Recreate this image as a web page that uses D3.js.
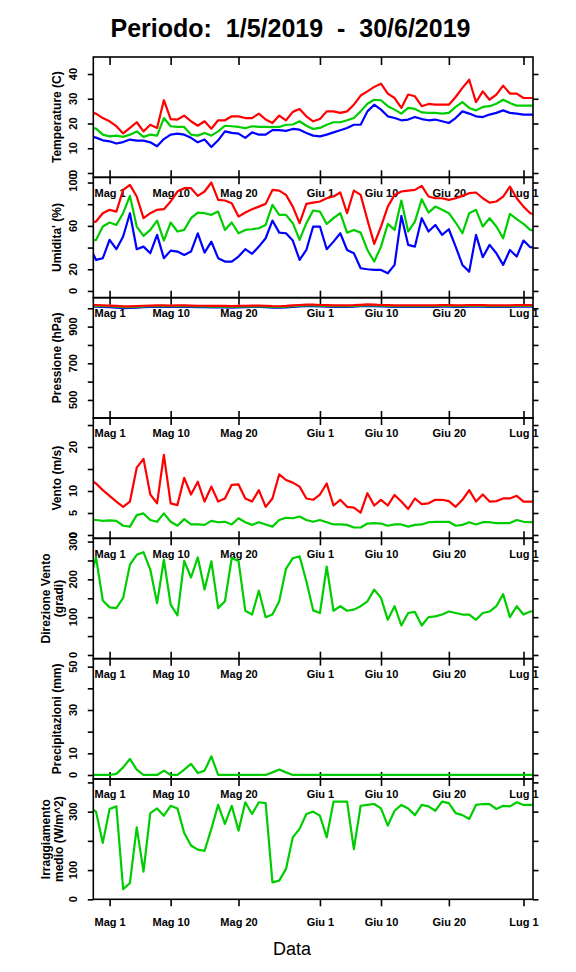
<!DOCTYPE html>
<html>
<head>
<meta charset="utf-8">
<style>
    body { margin: 0; background: #fff; }
    text { font-family: "Liberation Sans", Arial, sans-serif; fill: #000; }
    .frame { fill: none; stroke: #000; stroke-width: 1.6px; }
    .tick line { stroke: #000; stroke-width: 1.6px; }
    .serie { fill: none; stroke-width: 2.2px; stroke-linejoin: round; stroke-linecap: round; }
</style>
</head>
<body>
<svg id="chart" width="576" height="972"></svg>
<script src="https://cdn.jsdelivr.net/npm/d3@7"></script>
<script>
    // daily values, 28 Apr 2019 .. 3 Jul 2019
    var firstDay = new Date(Date.UTC(2019, 3, 28));
    var afterLast = new Date(Date.UTC(2019, 6, 4));
    var periodStart = new Date(Date.UTC(2019, 4, 1));
    var periodEnd = new Date(Date.UTC(2019, 5, 30));

    var tempMax = [24.6,24.0,22.2,20.9,18.9,16.0,18.2,20.5,16.8,19.5,
        18.2,29.4,21.8,21.6,23.2,20.9,19.1,20.9,17.9,21.3,
        21.3,22.9,22.9,22.2,22.2,24.0,21.6,20.2,23.2,21.3,
        24.7,25.9,22.9,20.9,21.8,24.9,24.9,24.3,24.9,27.6,
        31.3,33.0,34.8,36.1,32.1,30.3,26.3,31.7,31.0,27.0,
        27.9,27.6,27.6,27.6,30.7,34.4,37.7,28.6,33.0,29.6,
        31.7,35.3,32.1,32.1,30.3,30.3,30.3];
    var tempMed = [18.5,17.9,15.5,14.8,15.1,14.6,15.5,16.8,14.6,15.5,
        15.1,22.2,18.9,18.6,18.6,15.5,15.1,16.2,15.1,16.8,
        19.1,18.9,18.6,18.1,18.9,18.6,18.6,18.5,18.6,19.5,
        19.6,20.9,19.1,17.8,18.2,19.5,20.5,20.5,21.3,22.2,
        24.9,28.0,29.6,29.4,27.0,25.6,24.0,26.3,25.9,24.5,
        24.3,24.3,24.0,24.3,26.7,28.6,26.3,25.3,26.7,27.0,
        28.0,29.6,28.3,27.2,27.2,27.2,27.2];
    var tempMin = [14.9,14.3,13.2,12.8,11.9,12.5,13.5,13.1,13.1,12.4,
        10.8,13.7,15.5,15.9,15.5,14.2,12.4,13.5,10.5,13.2,
        16.8,16.2,15.9,14.2,16.4,15.5,15.5,17.3,17.3,17.0,
        17.8,17.5,16.2,15.1,14.8,15.5,16.4,17.3,18.2,19.5,
        19.5,24.9,27.6,25.6,22.9,22.2,21.3,21.6,22.6,21.8,
        21.3,21.6,20.9,20.2,22.2,24.9,24.0,22.9,22.6,23.6,
        24.3,25.3,24.3,24.0,23.6,23.6,23.6];

    var humMax = [63,64,71.7,74.8,73.2,93.2,97.8,87.1,67.1,71.7,
        74.8,75.4,82.5,91.7,94.8,94.8,87.7,91.7,100,84,
        83.4,80.9,68.6,72.3,75.4,77.8,80.3,93.2,92.6,88.6,
        77.8,62.5,80.3,81.5,82.5,85.5,87.1,90.8,71.7,92.6,
        88.6,65.5,43.4,59.4,77.8,88.6,91.7,92.6,93.2,96.9,
        87.1,85.5,85.5,84,85.5,87.7,90.2,90.8,85.5,81.5,
        82.5,87.1,96.3,85.5,77.8,71.7,70];
    var humMed = [46,47.1,59.4,63.1,60.9,71.7,87.7,59.4,50.8,56.3,
        64.9,46.5,63.1,54.8,56.3,67.1,72.3,71.7,70.2,73.2,
        56.3,63.1,53.2,56.3,56.9,57.8,60.9,79.4,70.2,70.2,
        62.5,47.1,62.5,74.2,73.2,61.8,67.1,71.7,53.8,56.3,
        53.8,37.8,27.1,40.9,61.8,56.3,83.4,54.8,64,84.6,
        72.3,77.8,74.8,71.7,63.1,53.2,71.7,74.8,59.4,67.1,
        59.4,48.6,71.1,66.2,61.8,56.3,55];
    var humMin = [42,28.6,30.2,47.1,38.5,50.2,71.7,38.5,40.9,34.8,
        51.7,30.2,37.2,36.3,33.2,36.3,53.2,35.4,45.5,30.2,
        27.1,27.1,31.7,38.5,34.2,40.9,48.6,64.9,53.8,53.2,
        46.5,28.6,37.8,59.4,59.4,38.5,45.5,53.2,37.8,34.8,
        20.9,20,19.4,19.4,16.3,24,69.2,42.5,40.9,67.1,
        54.8,60.9,51.7,56.9,40.9,24,17.8,51.7,31.1,42.5,
        34.8,24,37.8,31.7,46.5,40.3,40];

    var presMax = [1017,1017,1016,1015,1013,1010,1010,1012,1014,1015,
        1016,1016,1015,1016,1016,1015,1014,1014,1013,1013,
        1013,1012,1013,1014,1015,1015,1014,1012,1011,1013,
        1016,1018,1020,1020,1018,1017,1016,1016,1016,1017,
        1019,1021,1020,1018,1017,1016,1016,1016,1016,1016,
        1016,1016,1017,1017,1016,1016,1017,1017,1017,1016,
        1016,1016,1016,1017,1017,1017,1017];
    var presMed = [1013,1013,1012,1011,1009,1006,1006,1008,1010,1011,
        1012,1012,1011,1012,1012,1011,1010,1010,1009,1009,
        1009,1008,1009,1010,1011,1011,1010,1008,1007,1009,
        1012,1014,1016,1016,1014,1013,1012,1012,1012,1013,
        1015,1017,1016,1014,1013,1012,1012,1012,1012,1012,
        1012,1012,1013,1013,1012,1012,1013,1013,1013,1012,
        1012,1012,1012,1013,1013,1013,1013];
    var presMin = [1009,1009,1008,1006,1004,1001,1002,1004,1006,1007,
        1008,1008,1007,1008,1008,1007,1006,1006,1005,1005,
        1005,1004,1005,1006,1007,1007,1006,1004,1003,1005,
        1008,1010,1012,1012,1010,1009,1008,1008,1008,1009,
        1011,1013,1012,1010,1009,1008,1008,1008,1008,1008,
        1008,1008,1009,1009,1008,1008,1009,1009,1009,1008,
        1008,1008,1008,1009,1009,1009,1009];

    var windMax = [12.8,11.7,10.2,8.9,7.6,6.4,7.6,15.3,17.3,9.2,
        7.2,18.2,7.2,6.8,13.0,9.2,12.1,7.6,11.0,7.6,
        8.3,11.4,11.5,8.3,7.6,10.2,6.4,8.3,13.8,12.5,
        11.9,11.0,8.3,8.0,9.2,11.7,6.7,8.0,6.4,6.2,
        5.1,9.5,6.7,8.0,6.7,9.1,7.6,5.9,8.3,7.0,
        7.2,8.0,8.0,7.7,6.4,8.0,10.2,7.6,9.2,7.6,
        7.7,8.3,8.3,8.9,7.6,7.6,7.6];
    var windMed = [3.4,3.4,3.2,3.3,3.2,2.1,1.9,4.5,4.9,3.4,
        3.0,4.9,3.0,2.1,3.6,2.4,2.4,2.3,3.2,2.9,
        3.0,2.4,3.8,2.9,2.3,2.9,2.4,1.9,3.4,3.9,
        3.8,4.2,3.4,3.0,3.4,2.9,2.4,2.4,2.3,1.7,
        1.7,2.6,2.7,2.6,2.1,2.4,2.4,1.9,2.3,2.4,
        2.9,3.0,3.0,3.0,2.1,2.3,2.9,2.4,2.9,2.9,
        2.7,2.7,2.7,3.4,3.0,2.9,2.9];
    var windDir = [195,258,144,126,124,151,239,265,272,226,
        137,252,133,105,249,205,258,173,248,124,
        142,256,249,117,107,170,100,107,142,228,
        256,261,195,118,111,234,117,129,117,120,
        129,142,173,151,93,129,78,111,114,78,
        100,102,107,115,111,107,107,93,111,115,
        129,161,100,129,107,115,115];

    var rain = [0,0,0,0,0.5,3.5,7.4,2.5,0,0,
        0,2.0,0,0,2.5,5.1,0.9,2.0,8.6,0,
        0,0,0,0,0,0,0,1.2,2.5,1.2,
        0,0,0,0,0,0,0,0,0,0,
        0,0,0,0,0,0,0,0,0,0,
        0,0,0,0,0,0,0,0,0,0,
        0,0,0,0,0,0,0];
    var radiation = [315,300,193,309,318,35,56,246,95,295,
        311,286,320,311,227,184,170,166,241,323,
        258,320,235,332,292,332,329,58,64,104,
        212,241,292,300,286,212,334,334,334,172,
        320,323,326,311,252,303,323,311,288,323,
        318,303,334,329,295,288,275,323,326,326,
        309,320,318,332,323,323,323];

    // ticks and labels
    var dateTicks = [new Date(Date.UTC(2019,4,1)), new Date(Date.UTC(2019,4,10)), new Date(Date.UTC(2019,4,20)),
        new Date(Date.UTC(2019,5,1)), new Date(Date.UTC(2019,5,10)), new Date(Date.UTC(2019,5,20)),
        new Date(Date.UTC(2019,6,1))];
    var shortMonths = ['Gen','Feb','Mar','Apr','Mag','Giu','Lug','Ago','Set','Ott','Nov','Dic'];

    var tempTicks = [0,10,20,30,40],            tempLabels = [0,10,20,30,40];
    var humTicks = [0,20,40,60,80,100],         humLabels = [0,20,60,100];
    var presTicks = [500,600,700,800,900,1000], presLabels = [500,700,900];
    var windTicks = [0,5,10,15,20,25],          windLabels = [0,5,10,20];
    var dirTicks = [0,50,100,150,200,250,300],  dirLabels = [0,100,200,300];
    var rainTicks = [0,10,20,30,40,50],         rainLabels = [0,10,30,50];
    var radTicks = [0,100,200,300,400],         radLabels = [0,100,300];

    var RED = '#ff0000', GREEN = '#00cd00', BLUE = '#0000ff';

    var panels = [
        {title: ['Temperature (C)'], ylim: [-1.75, 46.87], ticks: tempTicks, labels: tempLabels,
            series: [[tempMin, BLUE], [tempMed, GREEN], [tempMax, RED]]},
        {title: ["Umidita' (%)"], ylim: [-6.2, 104.8], ticks: humTicks, labels: humLabels,
            series: [[humMin, BLUE], [humMed, GREEN], [humMax, RED]]},
        {title: ['Pressione (hPa)'], ylim: [401.5, 1058], ticks: presTicks, labels: presLabels,
            series: [[presMin, BLUE], [presMed, GREEN], [presMax, RED]]},
        {title: ['Vento (m/s)'], ylim: [-0.76, 26.6], ticks: windTicks, labels: windLabels,
            series: [[windMed, GREEN], [windMax, RED]]},
        {title: ['Direzione Vento', '(gradi)'], ylim: [-9.7, 308.6], ticks: dirTicks, labels: dirLabels,
            series: [[windDir, GREEN]]},
        {title: ['Precipitazioni (mm)'], ylim: [-1.85, 53.7], ticks: rainTicks, labels: rainLabels,
            series: [[rain, GREEN]]},
        {title: ['Irraggiamento', 'medio (W/m^2)'], ylim: [0, 411.7], ticks: radTicks, labels: radLabels,
            series: [[radiation, GREEN]]}
    ];

    var left = 93.3, right = 533, top0 = 57, ph = 120.33;
    var svg = d3.select('#chart');

    var days = d3.utcDay.range(firstDay, afterLast);
    var pad = 0.04 * (periodEnd - periodStart);
    var x = d3.scaleUtc()
        .domain([new Date(+periodStart - pad), new Date(+periodEnd + pad)])
        .range([left, right]);

    var it = d3.timeFormatLocale({
        dateTime: '%A %e %B %Y, %X', date: '%d/%m/%Y', time: '%H:%M:%S',
        periods: ['AM', 'PM'],
        days: ['Domenica','Lunedì','Martedì','Mercoledì','Giovedì','Venerdì','Sabato'],
        shortDays: ['Dom','Lun','Mar','Mer','Gio','Ven','Sab'],
        months: ['Gennaio','Febbraio','Marzo','Aprile','Maggio','Giugno','Luglio','Agosto','Settembre','Ottobre','Novembre','Dicembre'],
        shortMonths: shortMonths
    });
    var fmtDay = it.utcFormat('%b %-d');

    function cleanAxis(g) {
        g.select('.domain').remove();
        g.attr('font-family', null).attr('font-size', null);
        g.selectAll('.tick line').attr('stroke', '#000');
    }

    panels.forEach(function (p, i) {
        var y0 = top0 + i * ph, y1 = y0 + ph;
        var last = i === panels.length - 1;
        var y = d3.scaleLinear().domain(p.ylim).range([y1, y0]);
        var g = svg.append('g');

        // ticks on the y axes
        g.append('g').attr('transform', 'translate(' + left + ',0)')
            .call(d3.axisLeft(y).tickValues(p.ticks).tickSize(5.5).tickFormat(''))
            .call(cleanAxis);
        g.append('g').attr('transform', 'translate(' + right + ',0)')
            .call(d3.axisRight(y).tickValues(p.ticks).tickSize(5.5).tickFormat(''))
            .call(cleanAxis);

        // y labels, parallel to the axis
        g.selectAll('text.ylab').data(p.labels).enter().append('text')
            .attr('class', 'ylab')
            .attr('transform', function (v) { return 'translate(77,' + y(v) + ') rotate(-90)'; })
            .attr('text-anchor', 'middle')
            .attr('font-size', 11).attr('font-weight', 'bold')
            .text(function (v) { return v; });

        // y title
        var tx = p.title.length === 1 ? [61] : [49.5, 62.5];
        p.title.forEach(function (t, k) {
            g.append('text')
                .attr('transform', 'translate(' + tx[k] + ',' + ((y0 + y1) / 2) + ') rotate(-90)')
                .attr('text-anchor', 'middle')
                .attr('font-size', 12).attr('font-weight', 'bold')
                .text(t);
        });

        // date axis under the panel
        var xa = g.append('g')
            .attr('transform', 'translate(0,' + (last ? y1 : y1 - 7) + ')')
            .call(d3.axisBottom(x).tickValues(dateTicks).tickFormat(fmtDay)
                .tickSizeInner(last ? 7 : 14).tickSizeOuter(0).tickPadding(last ? 11.5 : 4.5))
            .call(cleanAxis);
        xa.selectAll('text').attr('font-size', 11).attr('font-weight', 'bold').attr('fill', '#000');

        if (i === 0) {
            g.append('g').attr('transform', 'translate(0,' + y0 + ')')
                .call(d3.axisBottom(x).tickValues(dateTicks).tickFormat('').tickSizeInner(8).tickSizeOuter(0))
                .call(cleanAxis);
        }

        // series
        svg.append('clipPath').attr('id', 'clip' + i)
            .append('rect').attr('x', left).attr('y', y0).attr('width', right - left).attr('height', ph);
        var line = d3.line()
            .x(function (d, k) { return x(days[k]); })
            .y(function (d) { return y(d); });
        g.append('g').attr('clip-path', 'url(#clip' + i + ')')
            .selectAll('path').data(p.series).enter().append('path')
            .attr('class', 'serie')
            .attr('stroke', function (s) { return s[1]; })
            .attr('d', function (s) { return line(s[0]); });

        g.append('rect').attr('class', 'frame')
            .attr('x', left).attr('y', y0).attr('width', right - left).attr('height', ph);
    });

    svg.append('text')
        .attr('x', 290.5).attr('y', 37)
        .attr('text-anchor', 'middle')
        .attr('font-size', 25).attr('font-weight', 'bold')
        .style('white-space', 'pre')
        .text('Periodo:  1/5/2019  -  30/6/2019');

    svg.append('text')
        .attr('x', 292).attr('y', 955)
        .attr('text-anchor', 'middle')
        .attr('font-size', 18)
        .text('Data');
</script>
</body>
</html>
